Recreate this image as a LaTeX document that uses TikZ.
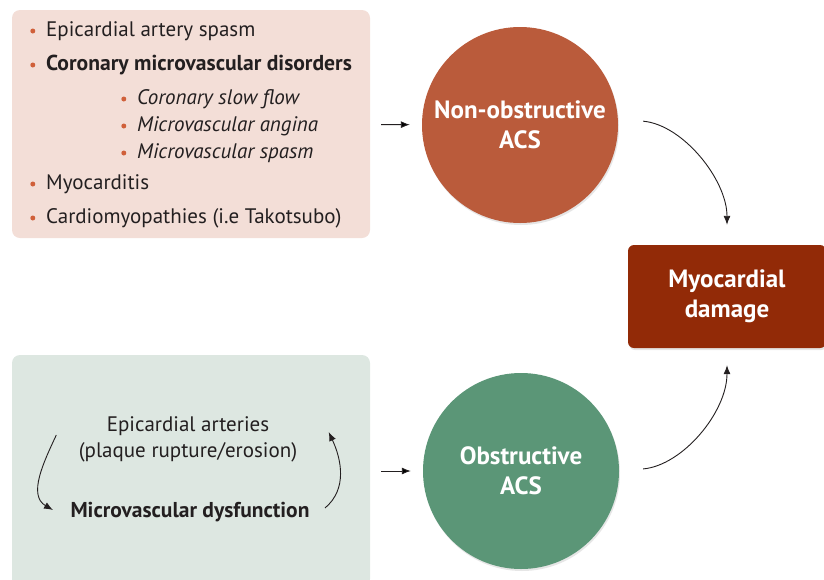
\documentclass[tikz,border=0pt]{standalone}
\usepackage{fontspec}
\setmainfont{PT Sans}
\usetikzlibrary{arrows.meta,positioning,shadows}
\definecolor{nonobsfill}{HTML}{F3DED7}
\definecolor{obsfill}{HTML}{DDE7E1}
\definecolor{nonobsdisc}{HTML}{BA5B3B}
\definecolor{obsdisc}{HTML}{5B9677}
\definecolor{damagefill}{HTML}{922A07}
\definecolor{bulletc}{HTML}{D0603A}
\definecolor{ink}{HTML}{231F20}

\begin{document}
\begin{tikzpicture}[>={Latex[length=9pt,width=7pt]}, x=1pt, y=1pt]
        \tikzset{panel/.style={rectangle, rounded corners=8pt, minimum width=358pt},
        disc/.style={circle, minimum size=196pt, text=white, align=center,
            font=\fontsize{25}{30}\selectfont\bfseries,
            drop shadow={shadow xshift=1pt, shadow yshift=-2pt, opacity=0.2}},
        item/.style={anchor=west, inner sep=0pt, text=ink,
            font=\fontsize{21}{24}\selectfont, label={[dot]left:{}}},
        dot/.style={circle, fill=bulletc, inner sep=0pt, minimum size=5pt, xshift=-10.5pt},
        link/.style={draw=ink, line width=0.9pt, ->},
        }
        \useasboundingbox (0,0) rectangle (824,-579);
%% panels
        \node [panel, fill=nonobsfill, minimum height=228pt] (causes) at (191,-124) {};
        \node [panel, fill=obsfill, minimum height=232pt] (mechanism) at (191,-471) {};
%% bullet list
        \foreach \n/\x/\y/\t in {1/46/31/{Epicardial artery spasm},
            2/46/65/{\fontsize{21.6}{24}\selectfont\bfseries Coronary microvascular disorders},
            3/137/99/{\itshape Coronary slow flow},
            4/137/126/{\itshape Microvascular angina},
            5/137/153/{\itshape Microvascular spasm},
            6/46/184/{Myocarditis},
            7/46/218/{Cardiomyopathies (i.e Takotsubo)}}
            \node [item] (item\n) at (\x,-\y) {\t};
%% cycle text
        \node [align=center, text=ink, font=\fontsize{21}{26}\selectfont] (epi) at (188,-439)
            {Epicardial arteries\\(plaque rupture/erosion)};
        \node [text=ink, font=\fontsize{21.5}{24}\selectfont\bfseries] (mvd) at (190,-512)
            {Microvascular dysfunction};
%% discs
        \node [disc, fill=nonobsdisc] (nonobs) at (520,-125) {Non-obstructive\\ACS};
        \node [disc, fill=obsdisc] (obs) at (521,-471) {Obstructive\\ACS};
        \node [rectangle, rounded corners=6pt, fill=damagefill, minimum width=198pt,
            minimum height=103pt, text=white, align=center,
            font=\fontsize{25}{30}\selectfont\bfseries,
            drop shadow={shadow xshift=1pt, shadow yshift=-2pt, opacity=0.2}]
            (damage) at (727,-296.5) {Myocardial\\damage};
%% paths
        \path[link, shorten <=11pt, shorten >=12pt] (causes) edge (nonobs)
                    (mechanism) edge (obs)
                    ;
        \draw[link, shorten <=25pt, shorten >=20pt] ([yshift=6pt]nonobs.east)
            to[out=-5, in=90] (damage.north);
        \draw[link, shorten <=24pt, shorten >=17pt] (obs.east)
            to[out=5, in=-90] (damage.south);
        \draw[link] ([xshift=-19pt, yshift=4pt]epi.west)
            to[out=245, in=150] ([xshift=-14pt, yshift=2pt]mvd.west);
        \draw[link] ([xshift=12pt, yshift=4pt]mvd.east)
            to[out=40, in=-65] ([xshift=28pt, yshift=7pt]epi.east);
    \end{tikzpicture}
\end{document}
